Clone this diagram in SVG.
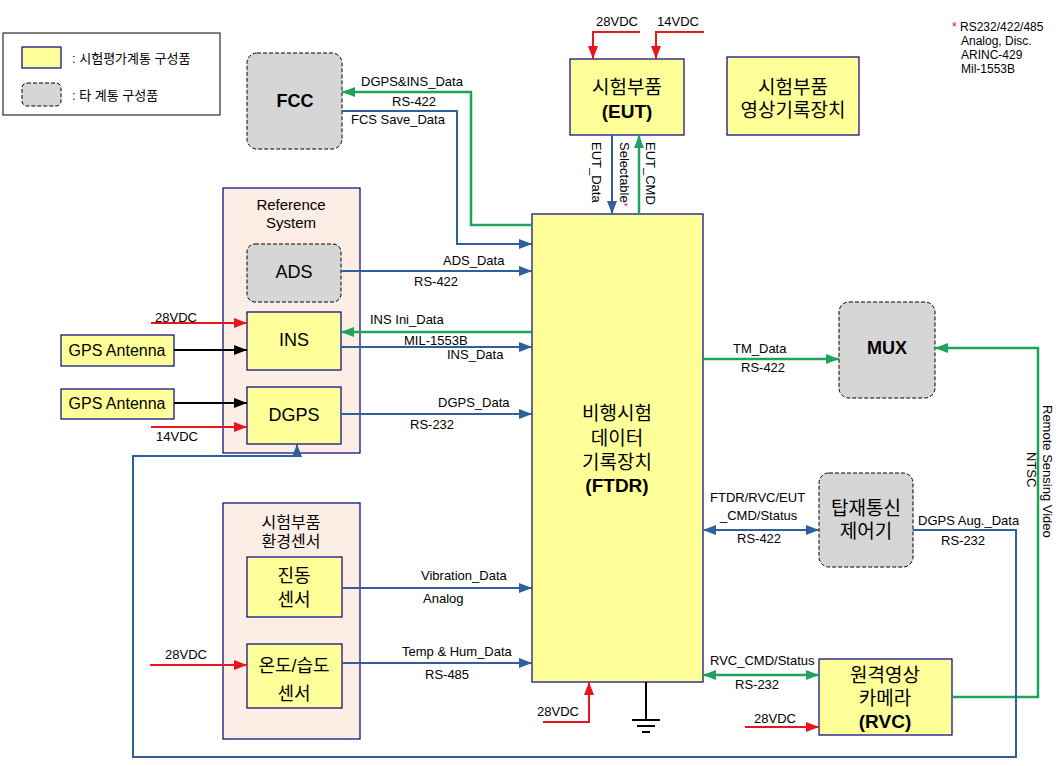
<svg xmlns="http://www.w3.org/2000/svg" width="1060" height="766" viewBox="0 0 1060 766">
<style>
text{font-family:"Liberation Sans","Noto Sans CJK KR",sans-serif;fill:#000}
.lbl{font-size:13px}
.big{font-size:18px}
.b{font-weight:bold}
.y{fill:#ffff99;stroke:#000080;stroke-width:1.2}
.g{fill:#d6d6d6;stroke:#000;stroke-width:1;stroke-dasharray:4 2}
.p{fill:#fcede5;stroke:#000080;stroke-width:1.2}
.lb{stroke:#30609a;stroke-width:2;fill:none}
.lg{stroke:#1fa35c;stroke-width:2.5;fill:none}
.lr{stroke:#e8141e;stroke-width:2;fill:none}
.lk{stroke:#000;stroke-width:2;fill:none}
</style>
<defs>
<marker id="ab" markerUnits="userSpaceOnUse" markerWidth="13" markerHeight="10" refX="13" refY="5" orient="auto-start-reverse"><path d="M0,0 L13,5 L0,10 z" fill="#30609a"/></marker>
<marker id="ag" markerUnits="userSpaceOnUse" markerWidth="13" markerHeight="10" refX="13" refY="5" orient="auto-start-reverse"><path d="M0,0 L13,5 L0,10 z" fill="#1fa35c"/></marker>
<marker id="ar" markerUnits="userSpaceOnUse" markerWidth="13" markerHeight="10" refX="13" refY="5" orient="auto-start-reverse"><path d="M0,0 L13,5 L0,10 z" fill="#e8141e"/></marker>
<marker id="ak" markerUnits="userSpaceOnUse" markerWidth="13" markerHeight="10" refX="13" refY="5" orient="auto-start-reverse"><path d="M0,0 L13,5 L0,10 z" fill="#000"/></marker>
</defs>
<rect width="1060" height="766" fill="#fff"/>

<g id="legend">
<rect x="3" y="33" width="217" height="82" fill="#fff" stroke="#000" stroke-width="1"/>
<rect x="22" y="47" width="39" height="21" class="y"/>
<text x="72" y="63" font-size="13">: 시험평가계통 구성품</text>
<rect x="22" y="83" width="39" height="23" rx="5" class="g"/>
<text x="72" y="100" font-size="13">: 타 계통 구성품</text>
</g>

<g id="note">
<text font-size="12"><tspan x="952" y="31"><tspan fill="#e8141e">*</tspan> RS232/422/485</tspan><tspan x="961" y="45">Analog, Disc.</tspan><tspan x="961" y="59">ARINC-429</tspan><tspan x="961" y="73">Mil-1553B</tspan></text>
</g>

<g id="refsys">
<rect x="223" y="188" width="137" height="265" class="p"/>
<text font-size="15" text-anchor="middle"><tspan x="291" y="210">Reference</tspan><tspan x="291" y="228">System</tspan></text>
</g>
<g id="sensgrp">
<rect x="223" y="503" width="137" height="236" class="p"/>
<text font-size="16" text-anchor="middle"><tspan x="291" y="528">시험부품</tspan><tspan x="291" y="547">환경센서</tspan></text>
</g>

<g id="fcc"><rect x="247" y="53" width="95" height="96" rx="10" class="g"/><text x="295" y="107" class="big b" text-anchor="middle">FCC</text></g>
<g id="ads"><rect x="247" y="244" width="94" height="58" rx="8" class="g"/><text x="294" y="278" class="big" text-anchor="middle">ADS</text></g>
<g id="ins"><rect x="247" y="312" width="94" height="58" class="y"/><text x="294" y="346" class="big" text-anchor="middle">INS</text></g>
<g id="dgps"><rect x="247" y="387" width="94" height="57" class="y"/><text x="294" y="421" class="big" text-anchor="middle">DGPS</text></g>
<g id="gps1"><rect x="61" y="335" width="113" height="31" class="y"/><text x="117" y="356" font-size="16" text-anchor="middle">GPS Antenna</text></g>
<g id="gps2"><rect x="61" y="389" width="113" height="30" class="y"/><text x="117" y="409" font-size="16" text-anchor="middle">GPS Antenna</text></g>
<g id="vib"><rect x="247" y="557" width="95" height="60" class="y"/><text class="big" text-anchor="middle"><tspan x="294" y="582">진동</tspan><tspan x="294" y="606">센서</tspan></text></g>
<g id="temp"><rect x="247" y="644" width="95" height="64" class="y"/><text class="big" text-anchor="middle"><tspan x="294" y="672">온도/습도</tspan><tspan x="294" y="700">센서</tspan></text></g>
<g id="eut"><rect x="570" y="59" width="114" height="76" class="y"/><text font-size="19" text-anchor="middle"><tspan x="627" y="94">시험부품</tspan><tspan x="627" y="118" class="b">(EUT)</tspan></text></g>
<g id="vidrec"><rect x="727" y="57" width="132" height="78" class="y"/><text font-size="19" text-anchor="middle"><tspan x="793" y="94">시험부품</tspan><tspan x="793" y="117">영상기록장치</tspan></text></g>
<g id="ftdr"><rect x="532" y="214" width="171" height="468" class="y"/>
<text font-size="19" text-anchor="middle"><tspan x="617" y="420">비행시험</tspan><tspan x="617" y="445">데이터</tspan><tspan x="617" y="469">기록장치</tspan><tspan x="617" y="492" class="b">(FTDR)</tspan></text></g>
<g id="mux"><rect x="839" y="302" width="96" height="96" rx="10" class="g"/><text x="887" y="354" class="big b" text-anchor="middle">MUX</text></g>
<g id="comm"><rect x="819" y="473" width="94" height="94" rx="10" class="g"/><text font-size="19" text-anchor="middle"><tspan x="866" y="515">탑재통신</tspan><tspan x="866" y="538">제어기</tspan></text></g>
<g id="rvc"><rect x="819" y="659" width="133" height="76" class="y"/><text font-size="19" text-anchor="middle"><tspan x="885" y="682">원격영상</tspan><tspan x="885" y="705">카메라</tspan><tspan x="885" y="728" class="b">(RVC)</tspan></text></g>
<g id="ground">
<line x1="646" y1="682" x2="646" y2="720" class="lk"/>
<line x1="632" y1="720" x2="660" y2="720" stroke="#000" stroke-width="2"/>
<line x1="637" y1="726" x2="655" y2="726" stroke="#000" stroke-width="2"/>
<line x1="642" y1="732" x2="650" y2="732" stroke="#000" stroke-width="2"/>
</g>

<g id="connectors">
<path d="M532,225 H471 V92 H342" class="lg" marker-end="url(#ag)"/>
<path d="M342,111 H457 V244 H532" class="lb" marker-end="url(#ab)"/>
<path d="M341,271 H532" class="lb" marker-end="url(#ab)"/>
<path d="M532,332 H341" class="lg" marker-end="url(#ag)"/>
<path d="M341,347 H532" class="lb" marker-end="url(#ab)"/>
<path d="M341,414 H532" class="lb" marker-end="url(#ab)"/>
<path d="M151,323 H247" class="lr" marker-end="url(#ar)"/>
<path d="M174,350 H247" class="lk" marker-end="url(#ak)"/>
<path d="M174,403 H247" class="lk" marker-end="url(#ak)"/>
<path d="M151,427 H247" class="lr" marker-end="url(#ar)"/>
<path d="M342,588 H532" class="lb" marker-end="url(#ab)"/>
<path d="M342,663 H532" class="lb" marker-end="url(#ab)"/>
<path d="M150,665 H247" class="lr" marker-end="url(#ar)"/>
<path d="M543,722 H589 V682" class="lr" marker-end="url(#ar)"/>
<path d="M640,32 H593 V59" class="lr" marker-end="url(#ar)"/>
<path d="M704,32 H656 V59" class="lr" marker-end="url(#ar)"/>
<path d="M612,135 V214" class="lb" marker-end="url(#ab)"/>
<path d="M639,214 V135" class="lg" marker-end="url(#ag)"/>
<path d="M703,359 H839" class="lg" marker-end="url(#ag)"/>
<path d="M703,530 H819" class="lb" marker-start="url(#ab)" marker-end="url(#ab)"/>
<path d="M703,675 H819" class="lg" marker-start="url(#ag)" marker-end="url(#ag)"/>
<path d="M745,727 H819" class="lr" marker-end="url(#ar)"/>
<path d="M952,697 H1038 V348 H935" class="lg" marker-end="url(#ag)"/>
<path d="M913,530 H1016 V757 H133 V456 H297 V444" class="lb" marker-end="url(#ab)"/>

<text x="361" y="86" class="lbl">DGPS&amp;INS_Data</text>
<text x="392" y="106" class="lbl">RS-422</text>
<text x="351" y="124" class="lbl">FCS Save_Data</text>
<text x="443" y="265" class="lbl">ADS_Data</text>
<text x="414" y="286" class="lbl">RS-422</text>
<text x="370" y="324" class="lbl">INS Ini_Data</text>
<text x="404" y="345" class="lbl">MIL-1553B</text>
<text x="447" y="359" class="lbl">INS_Data</text>
<text x="438" y="407" class="lbl">DGPS_Data</text>
<text x="410" y="429" class="lbl">RS-232</text>
<text x="155" y="322" class="lbl">28VDC</text>
<text x="156" y="441" class="lbl">14VDC</text>
<text x="421" y="580" class="lbl">Vibration_Data</text>
<text x="423" y="603" class="lbl">Analog</text>
<text x="402" y="656" class="lbl">Temp &amp; Hum_Data</text>
<text x="425" y="679" class="lbl">RS-485</text>
<text x="165" y="659" class="lbl">28VDC</text>
<text x="537" y="716" class="lbl">28VDC</text>
<text x="596" y="26" class="lbl">28VDC</text>
<text x="657" y="26" class="lbl">14VDC</text>
<text transform="translate(592,142) rotate(90)" class="lbl">EUT_Data</text>
<text transform="translate(620,142) rotate(90)" class="lbl">Selectable<tspan fill="#e8141e" font-size="10">*</tspan></text>
<text transform="translate(646,142) rotate(90)" class="lbl">EUT_CMD</text>
<text x="733" y="353" class="lbl">TM_Data</text>
<text x="741" y="372" class="lbl">RS-422</text>
<text class="lbl"><tspan x="710" y="502">FTDR/RVC/EUT</tspan><tspan x="720" y="520">_CMD/Status</tspan></text>
<text x="737" y="543" class="lbl">RS-422</text>
<text x="918" y="525" class="lbl">DGPS Aug._Data</text>
<text x="941" y="545" class="lbl">RS-232</text>
<text x="710" y="665" class="lbl">RVC_CMD/Status</text>
<text x="735" y="689" class="lbl">RS-232</text>
<text x="754" y="723" class="lbl">28VDC</text>
<text transform="translate(1043,405) rotate(90)" class="lbl">Remote Sensing Video</text>
<text transform="translate(1027,452) rotate(90)" class="lbl">NTSC</text>
</g>
</svg>
